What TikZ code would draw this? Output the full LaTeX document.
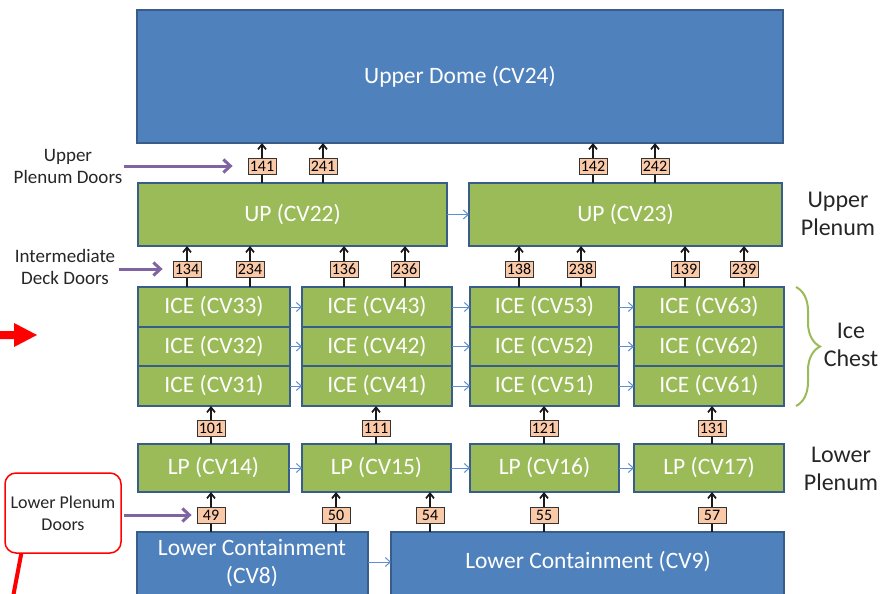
\documentclass[tikz,border=0pt]{standalone}
\usepackage{fontspec}
\setmainfont{Carlito}
\usetikzlibrary{arrows.meta,decorations.pathreplacing}
\definecolor{bfill}{HTML}{4F81BD}
\definecolor{bdraw}{HTML}{385D8A}
\definecolor{gfill}{HTML}{9BBB59}
\definecolor{tagfill}{HTML}{FAC9A8}
\definecolor{purp}{HTML}{8064A2}
\definecolor{lblue}{HTML}{5B8FCF}
\newcommand\mybox[6]{\node[#1, minimum width={(#4)-(#2)}, minimum height={(#5)-(#3)}] (#6) at ({((#2)+(#4))/2},{((#3)+(#5))/2})}
\begin{document}
\begin{tikzpicture}[x=1pt,y=-1pt,
 bluebox/.style={draw=bdraw, fill=bfill, line width=2pt, inner sep=0pt, outer sep=0pt, text=white, font=\fontsize{23.5}{29}\selectfont, align=center},
 greenbox/.style={bluebox, fill=gfill},
 tag/.style={draw=black!80, fill=tagfill, line width=0.8pt, minimum width=28pt, minimum height=16pt, inner sep=0pt, font=\fontsize{16}{16}\selectfont},
 flow/.style={line width=1.7pt, draw=black!90},
 upflow/.style={flow, -{Straight Barb[length=5pt,width=8pt]}},
 side/.style={draw=lblue, line width=1pt, -{Straight Barb[length=5pt,width=9pt]}},
 door/.style={draw=purp, line width=3pt, -{Straight Barb[length=7pt,width=13pt]}},
 lab/.style={font=\fontsize{24}{28}\selectfont, align=center, text=black!85},
 dlab/.style={font=\fontsize{19}{22}\selectfont, align=center, text=black!85},
 redbox/.style={draw=red, line width=1.5pt, rounded corners=11pt, minimum width=116pt, minimum height=80pt, align=center, font=\fontsize{18}{22}\selectfont, text=black!85},
 bracestyle/.style={draw=gfill, line width=2pt, decorate, decoration={brace, amplitude=24pt}}]
\useasboundingbox (0,0) rectangle (881,594);

% main boxes
\mybox{bluebox}{137}{10}{783}{143}{dome} {Upper Dome (CV24)};
\mybox{greenbox}{138}{183}{447}{246}{up22} {UP (CV22)};
\mybox{greenbox}{469}{183}{782}{246}{up23} {UP (CV23)};
\foreach \c/\xa/\xb in {3/138/290,4/302/452,5/470/619,6/634/784}{
  \foreach \r/\ya/\yb in {3/287/327,2/327/366,1/366/406}{
    \mybox{greenbox}{\xa}{\ya}{\xb}{\yb}{i\c\r} {ICE (CV\c\r)};
  }
}
\mybox{greenbox}{138}{444}{289}{492}{lp14} {LP (CV14)};
\mybox{greenbox}{302}{444}{451}{492}{lp15} {LP (CV15)};
\mybox{greenbox}{470}{444}{619}{492}{lp16} {LP (CV16)};
\mybox{greenbox}{634}{444}{784}{492}{lp17} {LP (CV17)};
\mybox{bluebox}{137}{532}{368}{600}{cv8} {};
\node[text=white, font=\fontsize{23.5}{28}\selectfont, align=center] (cv8t) at (252,563) {Lower Containment\\(CV8)};
\mybox{bluebox}{391}{532}{784}{600}{cv9} {};
\node[text=white, font=\fontsize{23.5}{28}\selectfont] (cv9t) at (588,562) {Lower Containment (CV9)};

% tags and vertical flow paths
\foreach \t/\x/\y/\lo/\hi in {141/262/166/up22/dome, 241/323/166/up22/dome, 142/593/166/up23/dome, 242/655/166/up23/dome,
  134/187/269/i33/up22, 234/250/269/i33/up22, 136/344/269/i43/up22, 236/405/269/i43/up22,
  138/519/269/i53/up23, 238/581/269/i53/up23, 139/685/269/i63/up23, 239/744/269/i63/up23,
  101/211/428/lp14/i31, 111/376/428/lp15/i41, 121/544/428/lp16/i51, 131/712/428/lp17/i61,
  49/211/515/cv8/lp14, 50/336/515/cv8/lp15, 54/430/515/cv9/lp15, 55/544/515/cv9/lp16, 57/712/515/cv9/lp17}{
  \draw[flow] (\x,\y) -- (\x,\y |- \lo.north);
  \draw[upflow] (\x,\y) -- (\x,\y |- \hi.south);
  \node[tag] (t\t) at (\x,\y) {\t};
}

% horizontal flow paths
\draw[side] (up22.east) -- (up23.west);
\foreach \r in {3,2,1}{
  \draw[side] (i3\r.east) -- (i4\r.west);
  \draw[side] (i4\r.east) -- (i5\r.west);
  \draw[side] (i5\r.east) -- (i6\r.west);
}
\draw[side] (lp14.east) -- (lp15.west);
\draw[side] (lp15.east) -- (lp16.west);
\draw[side] (lp16.east) -- (lp17.west);
\draw[side] (cv8.east |- cv9t) -- (cv9.west |- cv9t);

% right labels
\node[lab] (lupl) at (838,214) {Upper\\Plenum};
\node[lab] (lice) at (851,345) {Ice\\Chest};
\node[lab] (llpl) at (841,469) {Lower\\Plenum};
\draw[bracestyle] ([xshift=12pt]i63.north east) -- ([xshift=12pt]i61.south east);

% left labels and door arrows
\node[dlab] (lupd) at (68,166) {Upper\\Plenum Doors};
\node[dlab] (lidd) at (65,267) {Intermediate\\Deck Doors};
\node[redbox] (lpd) at (63,513) {Lower Plenum\\Doors};
\draw[door] ([xshift=-2pt]lupd.east |- t141.west) -- ([xshift=-15pt]t141.west);
\draw[door] (lidd.east |- t134.west) -- ([xshift=-10pt]t134.west);
\draw[door] ([xshift=2pt]lpd.east |- t49.west) -- ([xshift=-5pt]t49.west);

% red annotation marks
\coordinate (redend) at (13,597);
\draw[red, line width=4pt] ([xshift=17pt]lpd.south west) -- (redend);
\fill[red] (0,331) -- (14,331) -- (14,323) -- (37,335) -- (14,347) -- (14,339) -- (0,339) -- cycle;
\end{tikzpicture}
\end{document}
